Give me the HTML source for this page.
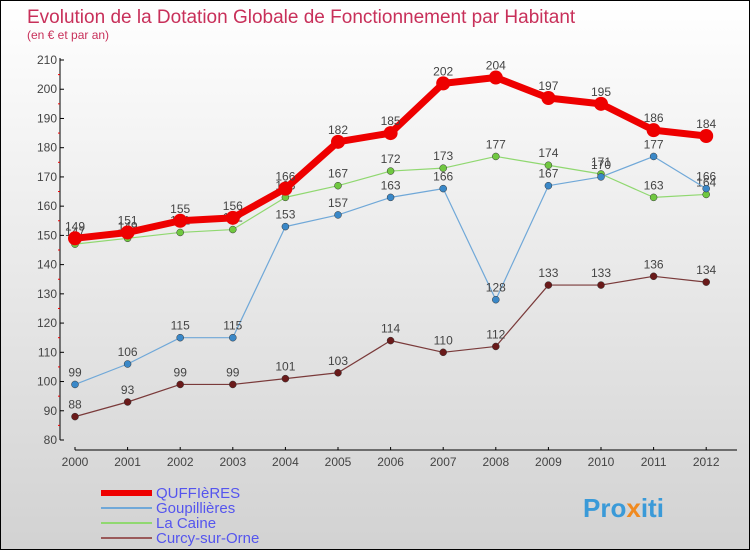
<!DOCTYPE html>
<html><head><meta charset="utf-8"><style>
html,body{margin:0;padding:0}
body{width:750px;height:550px;overflow:hidden;font-family:"Liberation Sans",sans-serif}
#wrap{position:relative;width:748px;height:548px;border:1px solid #000;background:linear-gradient(#ffffff,#d2d2d2)}
</style></head><body>
<div id="wrap">
<svg id="chart" width="748" height="548" style="position:absolute;left:0;top:0">
<text x="26" y="22" font-size="19" fill="#c8305a">Evolution de la Dotation Globale de Fonctionnement par Habitant</text>
<text x="26" y="38" font-size="12" fill="#c8305a">(en € et par an)</text>
<g id="axes"></g><g id="series"></g><g id="legend"></g>
<text x="582" y="516" font-size="26" font-weight="bold" fill="#3a9ad8">Pro<tspan fill="#f08a20">x</tspan><tspan fill="#3a9ad8">iti</tspan></text>
</svg>
</div>
<script>
const years=[2000,2001,2002,2003,2004,2005,2006,2007,2008,2009,2010,2011,2012];
const yTicks=[80,90,100,110,120,130,140,150,160,170,180,190,200,210];
const seriesNames=["QUFFIèRES","Goupillières","La Caine","Curcy-sur-Orne"];
const quffieres=[149,151,155,156,166,182,185,202,204,197,195,186,184];
const goupillieres=[99,106,115,115,153,157,163,166,128,167,170,177,166];
const laCaine=[147,149,151,152,163,167,172,173,177,174,171,163,164];
const curcy=[88,93,99,99,101,103,114,110,112,133,133,136,134];
const NS="http://www.w3.org/2000/svg";
function xS(i){return 74+i*52.6;}
function yS(v){return 59+(210-v)*(380/130);}
function mk(tag,attrs,parent){const e=document.createElementNS(NS,tag);for(const k in attrs)e.setAttribute(k,attrs[k]);parent.appendChild(e);return e;}
const ax=document.getElementById('axes');
let l=mk('line',{x1:59,y1:yS(210)-2,x2:59,y2:yS(80),stroke:'#000'},ax);


l=mk('line',{x1:74,y1:449,x2:736,y2:449,stroke:'#000'},ax);


yTicks.forEach(v=>{
 mk('line',{x1:59,y1:yS(v),x2:63,y2:yS(v),stroke:'#000'},ax);
 if(v<210) mk('line',{x1:57,y1:yS(v+5),x2:59,y2:yS(v+5),stroke:'#e00'},ax);
 const t=mk('text',{x:56,y:yS(v)+4,'font-size':12,'text-anchor':'end',fill:'#444'},ax);
 t.textContent=v;
 
 
});
years.forEach((y,i)=>{
 mk('line',{x1:xS(i),y1:446,x2:xS(i),y2:449,stroke:'#000'},ax);
 const t=mk('text',{x:xS(i),y:465,'font-size':12,'text-anchor':'middle',fill:'#444'},ax);
 t.textContent=y;
 
 
});
const sg=document.getElementById('series');
const defs=[[curcy,'#7a3a3a','#6a1a1a',1.2,3.5],[laCaine,'#90d870','#70c840',1.2,3.5],[goupillieres,'#70a8d8','#3a88c8',1.2,3.5],[quffieres,'#ee0000','#ee0000',7,7]];
const names=['curcy-sur-orne','la-caine','goupillieres','quffieres'];
defs.forEach((d,k)=>{
 const [vals,lc,pc,w,r]=d;
 const g=mk('g',{},sg);
 
 
 const p=mk('polyline',{points:vals.map((v,i)=>xS(i)+','+yS(v)).join(' '),fill:'none',stroke:lc,'stroke-width':w,'stroke-linejoin':'round'},g);
 
 
 vals.forEach((v,i)=>{
  const c=mk('circle',{cx:xS(i),cy:yS(v),r:r,fill:pc,stroke:k==3?'none':'#333','stroke-width':0.5},g);
  
  
  const t=mk('text',{x:xS(i),y:yS(v)-8,'font-size':12,'text-anchor':'middle',fill:'#444'},g);
  t.textContent=v;
  
  
 });
});
const lg=document.getElementById('legend');
const lcol=['#ee0000','#70a8d8','#90d870','#9a5a5a'],lw=[6,2,2,2],ly=[492,507,522,537];
seriesNames.forEach((n,i)=>{
 const g=mk('g',{},lg);
 
 
 mk('line',{x1:100,y1:ly[i],x2:151,y2:ly[i],stroke:lcol[i],'stroke-width':lw[i]},g);
 const t=mk('text',{x:155,y:ly[i]+5,'font-size':15,fill:'#5555ee'},g);
 t.textContent=n;
});
</script>
</body></html>
